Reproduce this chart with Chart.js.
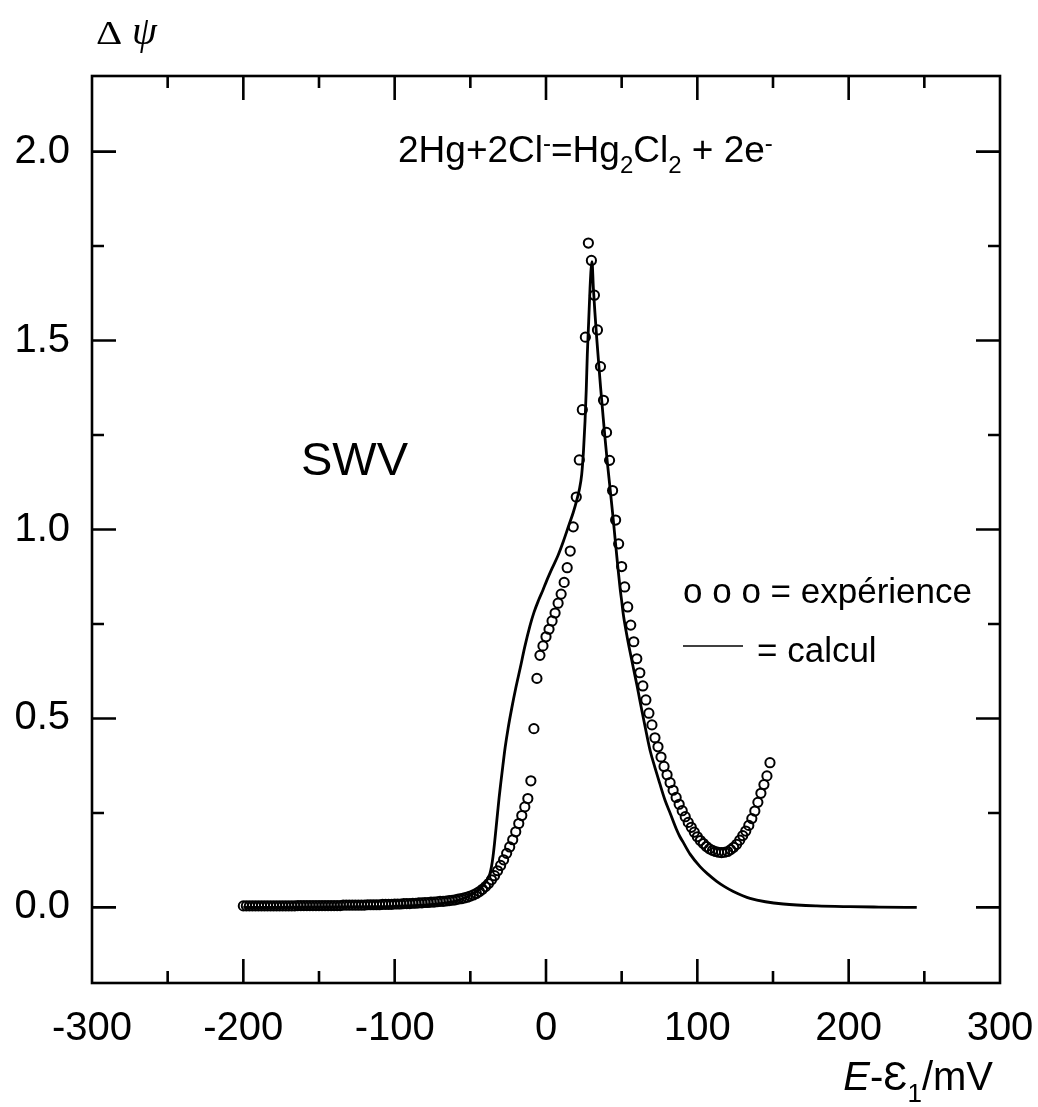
<!DOCTYPE html>
<html>
<head>
<meta charset="utf-8">
<script src="https://cdn.jsdelivr.net/npm/chart.js@4.4.1/dist/chart.umd.min.js"></script>
<style>
  body { margin: 0; background: #fff; }
  canvas { display: block; }
</style>
</head>
<body>
<canvas id="chart" width="1038" height="1107"></canvas>
<script>
// experiment (circles), E - E1 in mV
const expX = [
  -200, -198, -196, -194, -192, -190, -188, -186, -184, -182,
  -180, -178, -176, -174, -172, -170, -168, -166, -164, -162,
  -160, -158, -156, -154, -152, -150, -148, -146, -144, -142,
  -140, -138, -136, -134, -132, -130, -128, -126, -124, -122,
  -120, -118, -116, -114, -112, -110, -108, -106, -104, -102,
  -100, -98, -96, -94, -92, -90, -88, -86, -84, -82,
  -80, -78, -76, -74, -72, -70, -68, -66, -64, -62,
  -60, -58, -56, -54, -52, -50, -48, -46, -44, -42,
  -40, -38, -36, -34, -32, -30, -28, -26, -24, -22,
  -20, -18, -16, -14, -12, -10, -8, -6, -4, -2,
  0, 2, 4, 6, 8, 10, 12, 14, 16, 18,
  20, 22, 24, 26, 28, 30, 32, 34, 36, 38,
  40, 42, 44, 46, 48, 50, 52, 54, 56, 58,
  60, 62, 64, 66, 68, 70, 72, 74, 76, 78,
  80, 82, 84, 86, 88, 90, 92, 94, 96, 98,
  100, 102, 104, 106, 108, 110, 112, 114, 116, 118,
  120, 122, 124, 126, 128, 130, 132, 134, 136, 138,
  140, 142, 144, 146, 148
];
const expY = [
  0.004, 0.004, 0.004, 0.004, 0.004, 0.004, 0.004, 0.004, 0.004, 0.004,
  0.004, 0.004, 0.004, 0.004, 0.004, 0.004, 0.004, 0.004, 0.005, 0.005,
  0.005, 0.005, 0.005, 0.005, 0.005, 0.005, 0.005, 0.005, 0.005, 0.005,
  0.005, 0.005, 0.005, 0.006, 0.006, 0.006, 0.006, 0.006, 0.006, 0.006,
  0.006, 0.007, 0.007, 0.007, 0.007, 0.007, 0.008, 0.008, 0.008, 0.008,
  0.009, 0.009, 0.009, 0.010, 0.010, 0.010, 0.011, 0.011, 0.012, 0.012,
  0.013, 0.013, 0.014, 0.014, 0.015, 0.016, 0.016, 0.017, 0.018, 0.019,
  0.020, 0.022, 0.023, 0.025, 0.027, 0.030, 0.033, 0.037, 0.042, 0.048,
  0.055, 0.063, 0.073, 0.084, 0.097, 0.111, 0.126, 0.143, 0.160, 0.179,
  0.200, 0.222, 0.243, 0.266, 0.288, 0.335, 0.473, 0.606, 0.667, 0.692,
  0.716, 0.736, 0.758, 0.779, 0.805, 0.829, 0.860, 0.899, 0.943, 1.007,
  1.086, 1.184, 1.317, 1.509, 1.758, 1.712, 1.620, 1.528, 1.431, 1.342,
  1.257, 1.183, 1.103, 1.025, 0.962, 0.902, 0.848, 0.795, 0.747, 0.703,
  0.658, 0.621, 0.586, 0.549, 0.514, 0.483, 0.449, 0.425, 0.398, 0.373,
  0.351, 0.330, 0.310, 0.291, 0.273, 0.256, 0.240, 0.225, 0.212, 0.199,
  0.187, 0.177, 0.169, 0.161, 0.155, 0.151, 0.148, 0.146, 0.145, 0.146,
  0.148, 0.153, 0.159, 0.167, 0.178, 0.190, 0.202, 0.217, 0.235, 0.255,
  0.278, 0.302, 0.325, 0.348, 0.383
];

// calculation (solid line)
const calcX = [
  -200, -150, -120, -100, -80, -70, -60, -55, -50, -45,
  -42, -40, -38, -37, -36, -35, -34, -33, -32, -31,
  -30, -28.5, -27, -25, -22.5, -20, -17, -14, -10.6, -8,
  -5, -2, 0.4, 4, 8, 11.5, 15, 18, 20.3, 22,
  23.6, 24.8, 25.8, 26.6, 27.3, 28.2, 29.1, 29.8, 30.4, 31.3,
  32.3, 33.5, 34.8, 36.1, 37.5, 39, 40.6, 42.3, 44, 45.6,
  47.2, 48.9, 50, 51.1, 53.3, 55.5, 57.7, 60, 62.1, 64.3,
  66.5, 69, 72, 75, 78.6, 82, 86.4, 88.5, 90.7, 95.2,
  101.8, 107, 112.8, 118, 123.8, 130, 134.8, 145, 156.8, 178.9,
  200.9, 220, 245
];
const calcY = [
  0, 0.001, 0.002, 0.003, 0.006, 0.010, 0.017, 0.023, 0.032, 0.045,
  0.056, 0.066, 0.080, 0.090, 0.108, 0.135, 0.170, 0.210, 0.250, 0.290,
  0.325, 0.375, 0.423, 0.475, 0.530, 0.580, 0.634, 0.690, 0.745, 0.780,
  0.812, 0.840, 0.864, 0.897, 0.932, 0.969, 1.010, 1.045, 1.077, 1.105,
  1.146, 1.210, 1.287, 1.370, 1.463, 1.550, 1.639, 1.690, 1.709, 1.639,
  1.575, 1.507, 1.440, 1.375, 1.310, 1.242, 1.175, 1.110, 1.044, 0.978,
  0.912, 0.846, 0.811, 0.775, 0.723, 0.677, 0.634, 0.590, 0.546, 0.502,
  0.458, 0.412, 0.370, 0.330, 0.284, 0.250, 0.205, 0.187, 0.172, 0.141,
  0.108, 0.088, 0.069, 0.055, 0.042, 0.031, 0.024, 0.015, 0.009, 0.004,
  0.002, 0.001, 0
];

const xTicks = [-300, -200, -100, 0, 100, 200, 300];
const xMinorTicks = [-250, -150, -50, 50, 150, 250];
const yTicks = [0, 0.5, 1.0, 1.5, 2.0];
const yMinorTicks = [0.25, 0.75, 1.25, 1.75];

const SANS = '"Liberation Sans", Arial, sans-serif';
const SERIF = '"Liberation Serif", "Times New Roman", serif';

// draw a run of text pieces (normal / sub / sup / italic) from x on baseline y
function drawRuns(ctx, runs, x, y, size, align) {
  const fontFor = (r) => (r.italic ? 'italic ' : '') + (r.sub || r.sup ? Math.round(size * 0.66) : size) + 'px ' + SANS;
  let total = 0;
  runs.forEach((r) => { ctx.font = fontFor(r); total += ctx.measureText(r.t).width; });
  let cx = align === 'right' ? x - total : x;
  ctx.textAlign = 'left';
  ctx.textBaseline = 'alphabetic';
  runs.forEach((r) => {
    ctx.font = fontFor(r);
    const dy = r.sub ? size * 0.3 : r.sup ? -size * 0.3 : 0;
    ctx.fillText(r.t, cx, y + dy);
    cx += ctx.measureText(r.t).width;
  });
}

const framePlugin = {
  id: 'frame',
  afterDatasetsDraw(chart) {
    const { ctx, chartArea: a, scales: { x, y } } = chart;
    ctx.save();
    ctx.strokeStyle = '#000';
    ctx.lineWidth = 2.6;
    ctx.lineCap = 'butt';
    ctx.strokeRect(a.left, a.top, a.right - a.left, a.bottom - a.top);
    ctx.beginPath();
    const tickX = (v, len) => {
      const px = x.getPixelForValue(v);
      ctx.moveTo(px, a.bottom); ctx.lineTo(px, a.bottom - len);
      ctx.moveTo(px, a.top); ctx.lineTo(px, a.top + len);
    };
    const tickY = (v, len) => {
      const py = y.getPixelForValue(v);
      ctx.moveTo(a.left, py); ctx.lineTo(a.left + len, py);
      ctx.moveTo(a.right, py); ctx.lineTo(a.right - len, py);
    };
    xTicks.slice(1, -1).forEach((v) => tickX(v, 24));
    xMinorTicks.forEach((v) => tickX(v, 12));
    yTicks.forEach((v) => tickY(v, 24));
    yMinorTicks.forEach((v) => tickY(v, 12));
    ctx.stroke();
    ctx.restore();
  },
  afterDraw(chart) {
    const { ctx } = chart;
    ctx.save();
    ctx.fillStyle = '#000';

    // y axis title: Δψ
    ctx.textBaseline = 'alphabetic';
    ctx.textAlign = 'left';
    ctx.save();
    ctx.translate(96, 44);
    ctx.scale(1.2, 1);
    ctx.font = '34px ' + SERIF;
    ctx.fillText('Δ', 0, 0);
    ctx.restore();
    ctx.font = 'italic 40px ' + SERIF;
    ctx.fillText('ψ', 132, 44);

    // x axis title
    drawRuns(ctx, [
      { t: 'E', italic: true }, { t: '-' }, { t: 'Ɛ' }, { t: '1', sub: true }, { t: '/mV' }
    ], 993, 1090, 40, 'right');

    // reaction
    drawRuns(ctx, [
      { t: '2Hg+2Cl' }, { t: '-', sup: true }, { t: '=Hg' }, { t: '2', sub: true },
      { t: 'Cl' }, { t: '2', sub: true }, { t: ' + 2e' }, { t: '-', sup: true }
    ], 398, 162, 37, 'left');

    // method label
    ctx.font = '47px ' + SANS;
    ctx.fillText('SWV', 301, 475);

    // legend
    ctx.font = '35px ' + SANS;
    ctx.fillText('o o o = expérience', 683, 603);
    ctx.fillText('= calcul', 757, 662);
    ctx.strokeStyle = '#000';
    ctx.lineWidth = 1.5;
    ctx.beginPath();
    ctx.moveTo(683, 646);
    ctx.lineTo(743, 646);
    ctx.stroke();
    ctx.restore();
  }
};

new Chart(document.getElementById('chart'), {
  type: 'scatter',
  data: {
    datasets: [
      {
        label: 'expérience',
        data: expX.map((v, i) => ({ x: v, y: expY[i] })),
        showLine: false,
        pointStyle: 'circle',
        pointRadius: 4.6,
        pointBorderWidth: 2,
        borderColor: '#000',
        backgroundColor: 'rgba(0,0,0,0)'
      },
      {
        label: 'calcul',
        data: calcX.map((v, i) => ({ x: v, y: calcY[i] })),
        showLine: true,
        pointRadius: 0,
        borderColor: '#000',
        borderWidth: 2.8,
        cubicInterpolationMode: 'monotone',
        fill: false
      }
    ]
  },
  options: {
    responsive: false,
    animation: false,
    layout: { padding: { left: 0, top: 76, right: 38, bottom: 0 } },
    plugins: {
      legend: { display: false },
      tooltip: { enabled: false }
    },
    scales: {
      x: {
        type: 'linear',
        min: -300,
        max: 300,
        afterBuildTicks: (s) => { s.ticks = xTicks.map((v) => ({ value: v })); },
        afterFit: (s) => { s.height = 124; s.paddingLeft = 0; s.paddingRight = 0; },
        grid: { display: false, drawTicks: false },
        border: { display: false },
        ticks: {
          color: '#000',
          padding: 22,
          maxRotation: 0,
          autoSkip: false,
          font: { family: SANS, size: 40 },
          callback: (v) => String(v)
        }
      },
      y: {
        type: 'linear',
        min: -0.2,
        max: 2.2,
        afterBuildTicks: (s) => { s.ticks = yTicks.map((v) => ({ value: v })); },
        afterFit: (s) => { s.width = 92; s.paddingTop = 0; s.paddingBottom = 0; },
        grid: { display: false, drawTicks: false },
        border: { display: false },
        ticks: {
          color: '#000',
          padding: 22,
          font: { family: SANS, size: 40 },
          callback: (v) => v.toFixed(1)
        }
      }
    }
  },
  plugins: [framePlugin]
});
</script>
</body>
</html>
